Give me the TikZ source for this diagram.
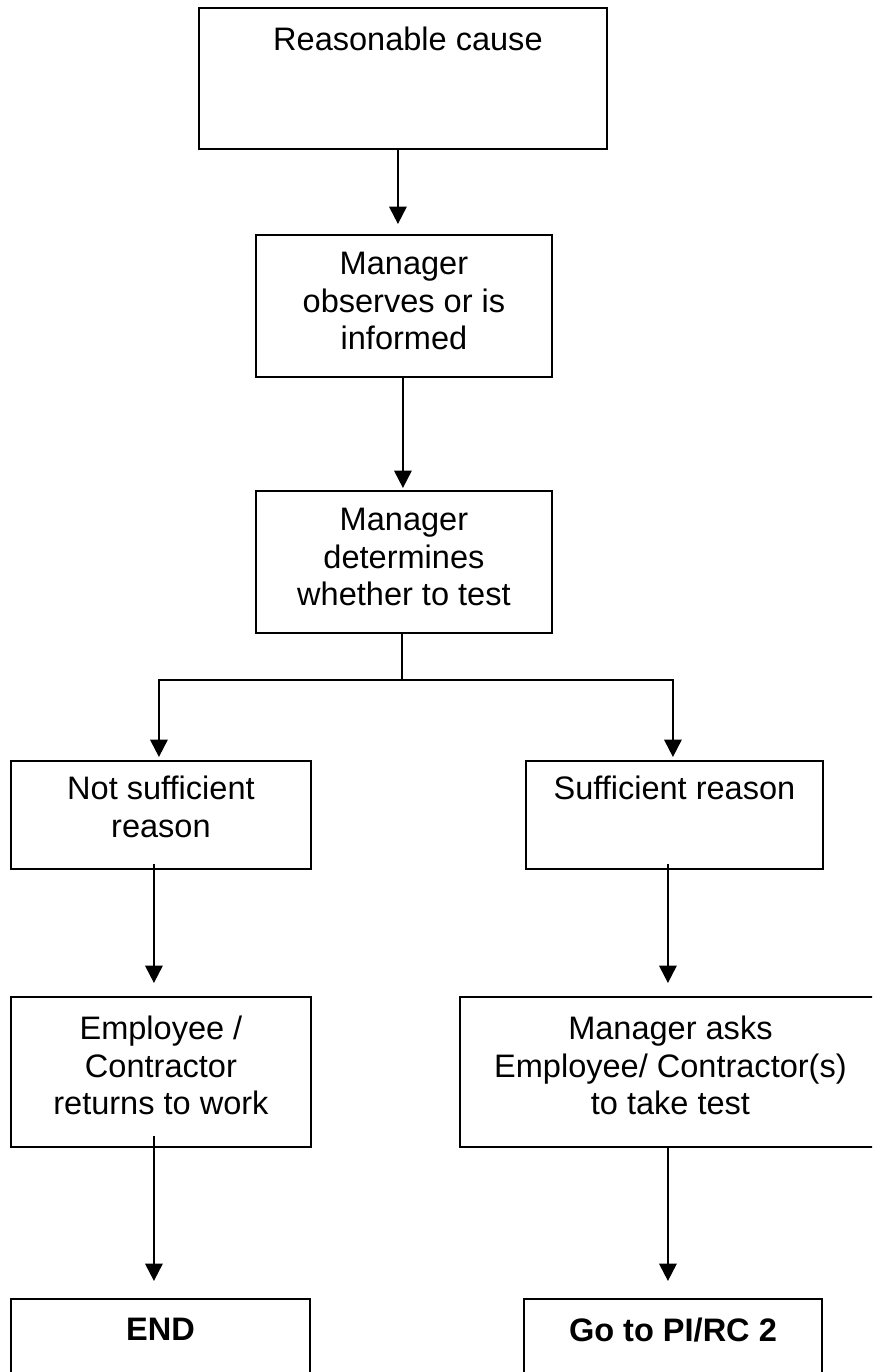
\documentclass[tikz,border=0pt]{standalone}
\usepackage{fontspec}
\setmainfont{Liberation Sans}
\usetikzlibrary{arrows.meta,calc}

\begin{document}
\begin{tikzpicture}[x=0.75pt,y=-0.75pt,
  box/.style={draw=black, line width=1.4pt, fill=none, inner sep=0pt,
              anchor=north west, rectangle},
  lbl/.style={inner sep=0pt, anchor=north, align=center,
              font=\fontsize{24.4pt}{28.1pt}\selectfont},
  lblb/.style={lbl, font=\fontsize{24.4pt}{28.1pt}\selectfont\bfseries},
  link/.style={line width=1.5pt, black},
  arr/.style={link, -{Triangle[width=13pt,length=13pt]}}]

  % page frame
  \useasboundingbox (0,0) rectangle (872,1372);
  \clip (0,0) rectangle (872,1372);

  % boxes
  \node[box, minimum width=306pt,    minimum height=105.75pt] (b1) at (198,7)    {};
  \node[box, minimum width=222pt,    minimum height=106.5pt]  (b2) at (255,234)  {};
  \node[box, minimum width=222pt,    minimum height=106.5pt]  (b3) at (255,490)  {};
  \node[box, minimum width=225pt,    minimum height=81pt]     (b4) at (10,760)   {};
  \node[box, minimum width=222.75pt, minimum height=81pt]     (b5) at (525,760)  {};
  \node[box, minimum width=225pt,    minimum height=112.5pt]  (b6) at (10,996)   {};
  \node[box, minimum width=315.75pt, minimum height=112.5pt]  (b7) at (459,996)  {};
  \node[box, minimum width=224.25pt, minimum height=112.5pt]  (b8) at (10,1298)  {};
  \node[box, minimum width=223.5pt,  minimum height=112.5pt]  (b9) at (523,1298) {};

  % labels
  \node[lbl]  (t1) at ($(b1.north)+(5,20)$)  {Reasonable cause};
  \node[lbl]  (t2) at ($(b2.north)+(0,18)$)  {Manager\\observes or is\\informed};
  \node[lbl]  (t3) at ($(b3.north)+(0,18)$)  {Manager\\determines\\whether to test};
  \node[lbl]  (t4) at ($(b4.north)+(0,16)$)  {Not sufficient\\reason};
  \node[lbl]  (t5) at ($(b5.north)+(0,16)$)  {Sufficient reason};
  \node[lbl]  (t6) at ($(b6.north)+(0,20)$)  {Employee /\\Contractor\\returns to work};
  \node[lbl]  (t7) at ($(b7.north)+(0,20)$)  {Manager asks\\Employee/ Contractor(s)\\to take test};
  \node[lblb] (t8) at ($(b8.north)+(0,20)$)  {END};
  \node[lblb] (t9) at ($(b9.north)+(0,20)$)  {Go to PI/RC 2};

  % connectors
  \draw[arr] ($(b1.south)+(-5,0)$) -- ($(b2.north)+(-6,-10)$);
  \draw[arr] ($(b2.south)+(-1,0)$) -- ($(b3.north)+(-1,-2)$);
  \draw[link] ($(b3.south)+(-2,0)$) -- ++(0,46) coordinate (fork);
  \draw[arr] (fork) -| ($(b4.north)+(-2,-3)$);
  \draw[arr] (fork) -| ($(b5.north)+(-1.5,-3)$);
  \draw[arr] ($(b4.south)+(-7,-6)$) -- ($(b6.north)+(-7,-13)$);
  \draw[arr] ($(b5.south)+(-6.5,-6)$) -- ($(b7.north)+(-2.5,-13)$);
  \draw[arr] ($(b6.south)+(-7,-12)$) -- ($(b8.north)+(-6.5,-17)$);
  \draw[arr] ($(b7.south)+(-2.5,0)$) -- ($(b9.north)+(-5,-17)$);
\end{tikzpicture}
\end{document}
